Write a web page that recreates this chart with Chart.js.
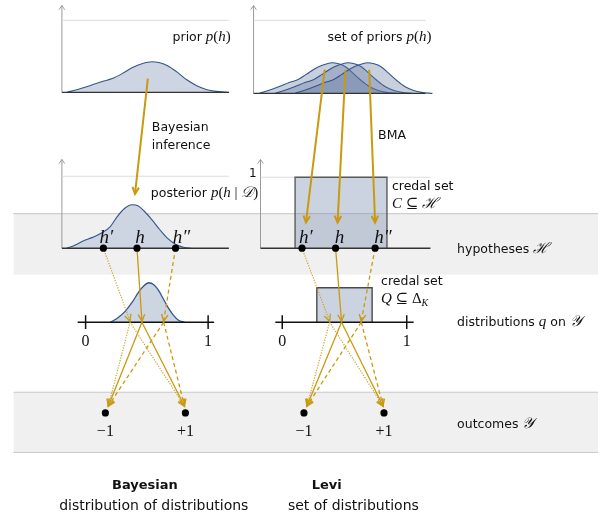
<!DOCTYPE html>
<html>
<head>
<meta charset="utf-8">
<script src="https://cdn.jsdelivr.net/npm/chart.js@4.4.1/dist/chart.umd.min.js"></script>
<style>
html,body{margin:0;padding:0;background:#fff;}
#wrap{width:602px;height:529px;}
</style>
</head>
<body>
<div id="wrap"><canvas id="c" width="602" height="529"></canvas></div>
<script>
// ---------- data (diagram units = px) ----------
const priorCurve = [[64,90],[75,87],[88,83],[100,79],[110,76],[120,71],[130,65],[140,61],[150,59],[158,60],[166,63],[175,69],[185,77],[195,83],[205,87],[215,89],[228,90]];
const priorShape = [[-73,0],[-64,3],[-53,7],[-43,11],[-34,14],[-26,19],[-17,25],[-8,29],[0,31],[7,30],[14,27],[21,21],[30,13],[38,7],[47,3],[55,1],[66,0]];
const priorPeaks = [332,348,368];
const posteriorCurve = [[64,248],[72,245],[80,241],[90,237],[100,232],[108,226],[115,216],[122,208],[130,204],[136,205],[142,210],[150,219],[158,229],[166,238],[174,244],[182,247],[190,248]];
const distCurve = [[108,323],[115,319],[123,312],[130,303],[137,292],[142,286],[147,283],[152,285],[157,291],[162,300],[167,309],[172,316],[177,321],[183,323]];
const hLeft = [101,135,174];
const hRight = [302,336,376];
const qLeft = [128,140,162];
const qRight = [330,342,362];
const outLeft = [103,184];
const outRight = [304,385];
const hLabels = ['h\u2032','h','h\u2033'];
const outLabels = ['\u22121','+1'];
const numTicks = ['0','1'];

const GOLD = '#c99a10';
const GOLD_L = 'rgba(201,154,16,0.9)';
const styles = ['dot','solid','dash'];

// ---------- dataset builders ----------
const DS = [];
function line(pts, o) {
  o = o || {};
  DS.push({
    data: pts.map(p => ({x:p[0], y:p[1]})),
    showLine: true,
    borderColor: o.color || '#333',
    borderWidth: o.width == null ? 1 : o.width,
    borderDash: o.dash || [],
    pointRadius: 0,
    pointHoverRadius: 0,
    tension: o.smooth ? 0.4 : 0,
    cubicInterpolationMode: o.smooth ? 'monotone' : 'default',
    fill: o.fill == null ? false : o.fill,
    backgroundColor: o.bg || 'transparent',
    arrow: o.arrow || null,
    borderCapStyle: 'butt'
  });
}
function dots(pts, r) {
  DS.push({
    data: pts.map(p => ({x:p[0], y:p[1]})),
    showLine: false,
    pointRadius: r, pointHoverRadius: r,
    pointBackgroundColor: '#000', pointBorderColor: '#000', pointBorderWidth: 0
  });
}
function arrowStyle(kind) {
  if (kind === 'dot') return {color: GOLD_L, width: 1.2, dash: [1.2,1.4], arrow: 'head'};
  if (kind === 'dash') return {color: GOLD, width: 1.3, dash: [4,3], arrow: 'head'};
  return {color: GOLD, width: 1.3, arrow: 'head'};
}

// gray bands
line([[10,213],[602,213]], {color:'#c4c4c4', width:1, fill:{value:275}, bg:'#f0f0f0'});
line([[10,394],[602,394]], {color:'#c8c8c8', width:1, fill:{value:455}, bg:'#f0f0f0'});
line([[10,455],[602,455]], {color:'#c8c8c8', width:1});

// panel frames
function panel(ax, x1, base, top, one) {
  line([[ax,base],[ax,top]], {color:'#9a9a9a', width:1, arrow:'axis'});
  line([[ax,one],[x1,one]], {color:'#dcdcdc', width:1});
}
panel(59, 228, 90, 2, 17);
panel(253, 427, 91, 2, 17);
panel(59, 228, 248, 158, 175);
panel(260, 432, 248, 158, 176);

// curves
line(priorCurve, {color:'#34558b', width:1.1, smooth:true, fill:{value:90}, bg:'#cdd4e2'});
priorPeaks.forEach(pk => {
  line(priorShape.map(p => [pk + p[0], 91 - p[1]]), {color:'#34558b', width:1.1, smooth:true, fill:{value:91}, bg:'rgba(88,113,155,0.33)'});
});
line(posteriorCurve, {color:'#34558b', width:1.1, smooth:true, fill:{value:248}, bg:'#cdd4e2'});
line(distCurve, {color:'#34558b', width:1.3, smooth:true, fill:{value:323}, bg:'#cdd4e2'});

// credal boxes
line([[295,248],[295,176],[388,176],[388,248]], {color:'#5a5a5a', width:1.4, fill:{value:248}, bg:'rgba(109,129,166,0.35)'});
line([[317,323],[317,288],[373,288],[373,323]], {color:'#4a4a4a', width:1.4, fill:{value:323}, bg:'rgba(109,129,166,0.35)'});

// baselines
line([[59,90],[228,90]], {color:'#333', width:1.4});
line([[253,91],[427,91]], {color:'#333', width:1.4});
line([[59,248],[228,248]], {color:'#333', width:1.4});
line([[260,248],[432,248]], {color:'#333', width:1.4});

// number lines
function numberLine(x0, x1, t0, t1) {
  line([[x0,323],[x1,323]], {color:'#111', width:1.5});
  line([[t0,316],[t0,330]], {color:'#111', width:1.5});
  line([[t1,316],[t1,330]], {color:'#111', width:1.5});
}
numberLine(75, 213, 83, 207);
numberLine(275, 415, 282, 408);

// big inference arrows
line([[146,76],[133,193]], {color:GOLD, width:2, arrow:'head'});
line([[325,67],[306,222]], {color:GOLD, width:2, arrow:'head'});
line([[346,67],[338,222]], {color:GOLD, width:2, arrow:'head'});
line([[370,67],[376,222]], {color:GOLD, width:2, arrow:'head'});

// hypothesis -> distribution -> outcome arrows
function fan(hs, qs, outs) {
  hs.forEach((h, i) => {
    const st = arrowStyle(styles[i]);
    line([[h,248],[qs[i],322]], st);
    line([[qs[i],323],[outs[0]+3,408]], st);
    line([[qs[i],323],[outs[1]-1,408]], st);
  });
}
fan(hLeft, qLeft, outLeft);
fan(hRight, qRight, outRight);

// points
dots(hLeft.map(x => [x,248]).concat(hRight.map(x => [x,248])), 3.6);
dots(outLeft.map(x => [x,415]).concat(outRight.map(x => [x,415])), 3.6);

// drawing order: first pushed is drawn first
DS.forEach((d, i) => { d.order = DS.length - i; });

// ---------- text ----------
const SANS = '"DejaVu Sans", sans-serif';
const SERIF = '"Liberation Serif", "DejaVu Serif", serif';
const F = {
  s: '12.5px ' + SANS,
  t: '14px ' + SANS,
  b: 'bold 13px ' + SANS,
  i: 'italic 15px ' + SERIF,
  r: '15px ' + SERIF,
  h: 'italic 19px ' + SERIF,
  n: '16px ' + SERIF,
  sub: 'italic 10px ' + SERIF,
  cal: 'italic 15px "DejaVu Serif", serif',
  one: '12px ' + SANS
};
const texts = [
  {x:230, y:37.5, a:'right', p:[['prior ','s'],['p','i'],['(','r'],['h','i'],[')','r']]},
  {x:433, y:37.5, a:'right', p:[['set of priors ','s'],['p','i'],['(','r'],['h','i'],[')','r']]},
  {x:150, y:129, a:'left', p:[['Bayesian','s']]},
  {x:150, y:147, a:'left', p:[['inference','s']]},
  {x:379, y:137.5, a:'left', p:[['BMA','s']]},
  {x:149, y:196.5, a:'left', p:[['posterior ','s'],['p','i'],['(','r'],['h','i'],[' | ','r'],['\u{1D49F}','cal'],[')','r']]},
  {x:256, y:176, a:'right', p:[['1','one']]},
  {x:393, y:189, a:'left', p:[['credal set','s']]},
  {x:393, y:207, a:'left', p:[['C','i'],[' \u2286 ','r'],['\u210B','cal']]},
  {x:459, y:252.5, a:'left', p:[['hypotheses ','s'],['\u210B','cal']]},
  {x:382, y:285, a:'left', p:[['credal set','s']]},
  {x:382, y:304, a:'left', p:[['Q','i'],[' \u2286 ','r'],['\u0394','r'],['K','sub']]},
  {x:459, y:327, a:'left', p:[['distributions ','s'],['q','i'],[' on ','s'],['\u{1D4B4}','cal']]},
  {x:459, y:430.5, a:'left', p:[['outcomes ','s'],['\u{1D4B4}','cal']]},
  {x:143, y:492, a:'center', p:[['Bayesian','b']]},
  {x:152, y:513, a:'center', p:[['distribution of distributions','t']]},
  {x:327, y:492, a:'center', p:[['Levi','b']]},
  {x:354, y:513, a:'center', p:[['set of distributions','t']]}
];
[[hLeft,[104,138,180]],[hRight,[306,340,384]]].forEach(([hs, lx]) => {
  lx.forEach((x, i) => texts.push({x:x, y:243, a:'center', p:[[hLabels[i],'h']]}));
});
[[83,207],[282,408]].forEach(tk => tk.forEach((x, i) => texts.push({x:x, y:347, a:'center', p:[[numTicks[i],'n']]})));
[outLeft, outRight].forEach(os => os.forEach((x, i) => texts.push({x:x, y:438, a:'center', p:[[outLabels[i],'n']]})));

const textPlugin = {
  id: 'texts',
  afterDraw(chart) {
    const ctx = chart.ctx, xs = chart.scales.x, ys = chart.scales.y;
    ctx.save();
    ctx.fillStyle = '#111';
    ctx.textBaseline = 'alphabetic';
    ctx.textAlign = 'left';
    texts.forEach(t => {
      let w = 0;
      t.p.forEach(([s, f]) => { ctx.font = F[f]; w += ctx.measureText(s).width; });
      let x = xs.getPixelForValue(t.x);
      const y = ys.getPixelForValue(t.y);
      if (t.a === 'right') x -= w; else if (t.a === 'center') x -= w / 2;
      t.p.forEach(([s, f]) => {
        ctx.font = F[f];
        ctx.fillText(s, x, y + (f === 'sub' ? 3 : 0));
        x += ctx.measureText(s).width;
      });
    });
    ctx.restore();
  }
};

const arrowPlugin = {
  id: 'arrows',
  afterDatasetDraw(chart, args) {
    const ds = chart.data.datasets[args.index];
    if (!ds.arrow) return;
    const pts = args.meta.data;
    const a = pts[pts.length - 2], b = pts[pts.length - 1];
    const ang = Math.atan2(b.y - a.y, b.x - a.x);
    const ctx = chart.ctx;
    const L = ds.arrow === 'axis' ? 5 : 7.5;
    const spread = ds.arrow === 'axis' ? 0.6 : 0.45;
    ctx.save();
    ctx.strokeStyle = ds.borderColor;
    ctx.lineWidth = ds.arrow === 'axis' ? 1 : Math.max(1.4, ds.borderWidth);
    ctx.setLineDash([]);
    ctx.lineJoin = 'miter';
    ctx.beginPath();
    ctx.moveTo(b.x - L * Math.cos(ang - spread), b.y - L * Math.sin(ang - spread));
    ctx.lineTo(b.x, b.y);
    ctx.lineTo(b.x - L * Math.cos(ang + spread), b.y - L * Math.sin(ang + spread));
    ctx.stroke();
    ctx.restore();
  }
};

new Chart(document.getElementById('c'), {
  type: 'scatter',
  data: { datasets: DS },
  options: {
    responsive: false,
    animation: false,
    layout: { padding: 0 },
    events: [],
    scales: {
      x: { type: 'linear', min: 0, max: 602, display: false },
      y: { type: 'linear', min: 0, max: 529, reverse: true, display: false }
    },
    plugins: { legend: { display: false }, tooltip: { enabled: false } }
  },
  plugins: [arrowPlugin, textPlugin]
});
</script>
</body>
</html>
